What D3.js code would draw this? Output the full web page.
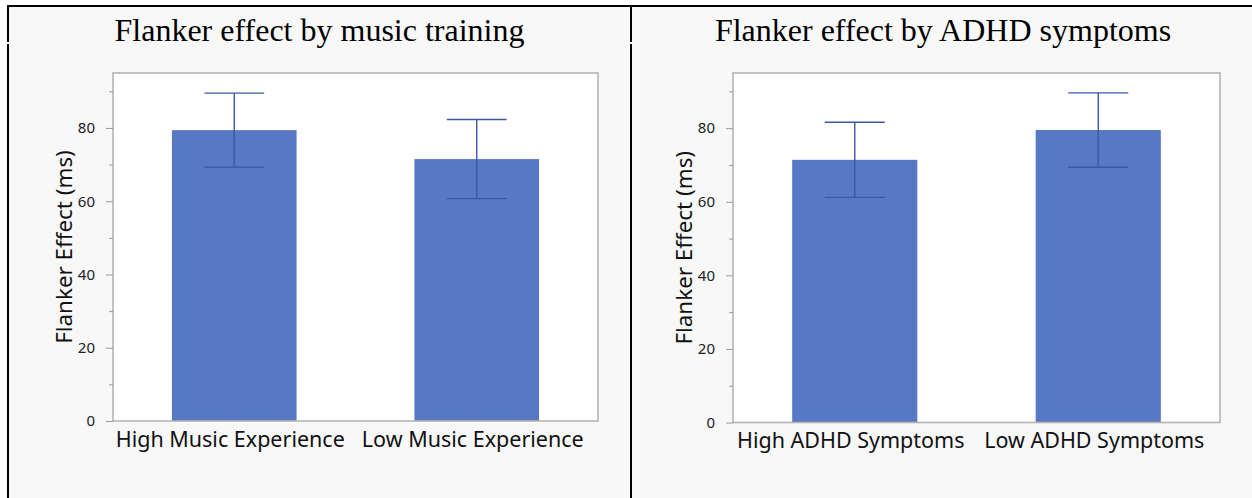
<!DOCTYPE html>
<html>
<head>
<meta charset="utf-8">
<script src="https://cdn.jsdelivr.net/npm/d3@7"></script>
<style>
  html, body { margin: 0; padding: 0; background: #ffffff; }
  svg { display: block; }
</style>
</head>
<body>
<svg id="chart" width="1252" height="498"></svg>
<script>
// Flanker effect (ms), group means with error bars
const musicGroups = ["High Music Experience", "Low Music Experience"];
const musicMeans = [79.4, 71.5];
const musicErrors = [10.1, 10.8];

const adhdGroups = ["High ADHD Symptoms", "Low ADHD Symptoms"];
const adhdMeans = [71.4, 79.5];
const adhdErrors = [10.2, 10.1];

const panelTitles = ["Flanker effect by music training", "Flanker effect by ADHD symptoms"];
const yAxisTitle = "Flanker Effect (ms)";
const yMajorTicks = [0, 20, 40, 60, 80];
const yMinorTicks = [10, 30, 50, 70, 90];
const yMax = 95;

const svg = d3.select("#chart");
const W = 1252, H = 498;

// Cell backgrounds
svg.append("rect").attr("x", 8).attr("y", 6).attr("width", W - 8).attr("height", H - 6).attr("fill", "#f8f8f8");

// Table borders
const border = svg.append("g").attr("stroke", "#000").attr("stroke-width", 2);
border.append("line").attr("x1", 7).attr("x2", W).attr("y1", 6).attr("y2", 6);
[8, 631].forEach(x => {
  border.append("line").attr("x1", x).attr("x2", x).attr("y1", 5).attr("y2", 42);
  border.append("line").attr("x1", x).attr("x2", x).attr("y1", 44).attr("y2", H);
});

const sans = "'Noto Sans', 'Open Sans', sans-serif";

function drawPanel(opts) {
  const { groups, means, errors, title, cellX0, cellX1, left, right, top, bottom } = opts;
  const g = svg.append("g");

  g.append("text")
    .attr("x", (cellX0 + cellX1) / 2)
    .attr("y", 41)
    .attr("text-anchor", "middle")
    .attr("font-family", "'Liberation Serif', 'Times New Roman', serif")
    .attr("font-size", 32)
    .attr("fill", "#000")
    .text(title);

  const x = d3.scaleBand().domain(groups).range([left, right]).paddingInner(0.486).paddingOuter(0.243);
  const y = d3.scaleLinear().domain([0, yMax]).range([bottom, top]);

  // plot area
  g.append("rect")
    .attr("x", left).attr("y", top)
    .attr("width", right - left).attr("height", bottom - top)
    .attr("fill", "#ffffff");

  // bars
  g.selectAll("rect.bar").data(groups).join("rect")
    .attr("class", "bar")
    .attr("x", d => x(d))
    .attr("width", x.bandwidth())
    .attr("y", (d, i) => y(means[i]))
    .attr("height", (d, i) => y(0) - y(means[i]))
    .attr("fill", "#5778c4");

  // error bars
  const capHalf = x.bandwidth() * 0.24;
  const eb = g.append("g").attr("stroke", "#3b57a6").attr("stroke-width", 1.4).attr("fill", "none");
  groups.forEach((d, i) => {
    const cx = x(d) + x.bandwidth() / 2;
    const hi = y(means[i] + errors[i]);
    const lo = y(means[i] - errors[i]);
    eb.append("line").attr("x1", cx).attr("x2", cx).attr("y1", hi).attr("y2", lo);
    eb.append("line").attr("x1", cx - capHalf).attr("x2", cx + capHalf).attr("y1", hi).attr("y2", hi);
    eb.append("line").attr("x1", cx - capHalf).attr("x2", cx + capHalf).attr("y1", lo).attr("y2", lo);
  });

  // frame
  g.append("rect")
    .attr("x", left).attr("y", top)
    .attr("width", right - left).attr("height", bottom - top)
    .attr("fill", "none").attr("stroke", "#b4b4b4").attr("stroke-width", 1.6);

  // y axis
  const yAxis = d3.axisLeft(y).tickValues(yMajorTicks).tickSize(7).tickPadding(11).tickFormat(d3.format("d"));
  const ya = g.append("g").attr("transform", `translate(${left},0)`).call(yAxis);
  ya.select(".domain").remove();
  ya.selectAll(".tick line").attr("stroke", "#999").attr("stroke-width", 1);
  ya.selectAll(".tick text")
    .attr("font-family", sans)
    .attr("font-size", 15).attr("fill", "#222");

  const yMinor = d3.axisLeft(y).tickValues(yMinorTicks).tickSize(4).tickFormat("");
  const ym = g.append("g").attr("transform", `translate(${left},0)`).call(yMinor);
  ym.select(".domain").remove();
  ym.selectAll(".tick line").attr("stroke", "#999").attr("stroke-width", 1);

  // x axis labels
  const xAxis = d3.axisBottom(x).tickSize(0).tickPadding(10.5);
  const xa = g.append("g").attr("transform", `translate(0,${bottom})`).call(xAxis);
  xa.select(".domain").remove();
  xa.selectAll(".tick text")
    .attr("dx", -4)
    .attr("font-family", sans)
    .attr("font-size", 21.5).attr("fill", "#111");

  // y axis title
  g.append("text")
    .attr("transform", `translate(${left - 50},${(top + bottom) / 2}) rotate(-90)`)
    .attr("text-anchor", "middle")
    .attr("dominant-baseline", "central")
    .attr("font-family", sans)
    .attr("font-size", 22.4).attr("fill", "#111")
    .text(yAxisTitle);
}

drawPanel({
  groups: musicGroups, means: musicMeans, errors: musicErrors, title: panelTitles[0],
  cellX0: 9, cellX1: 630, left: 113, right: 598, top: 73, bottom: 421
});
drawPanel({
  groups: adhdGroups, means: adhdMeans, errors: adhdErrors, title: panelTitles[1],
  cellX0: 632, cellX1: 1254, left: 733, right: 1220, top: 73, bottom: 422.5
});
</script>
</body>
</html>
